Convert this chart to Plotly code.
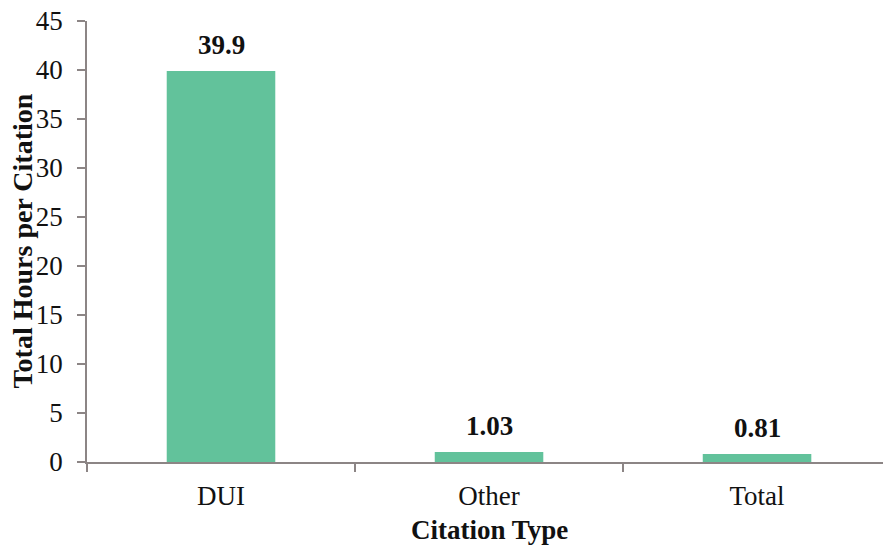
import plotly.graph_objects as go

# Hours of enforcement per citation, by citation type
categories = ["DUI", "Other", "Total"]
hours_per_citation = [39.9, 1.03, 0.81]
value_labels = ["39.9", "1.03", "0.81"]
y_ticks = [0, 5, 10, 15, 20, 25, 30, 35, 40, 45]

FONT = "Liberation Serif"
AXIS_GRAY = "#8c8585"
BAR_GREEN = "#62C29B"

fig = go.Figure()
fig.add_trace(go.Bar(
    x=categories,
    y=hours_per_citation,
    width=0.405,
    marker=dict(color=BAR_GREEN, line=dict(width=0)),
    hoverinfo="skip",
))

# Bold value labels above each bar
for cat, val, lab in zip(categories, hours_per_citation, value_labels):
    fig.add_annotation(
        x=cat, y=val, xref="x", yref="y",
        text=f"<b>{lab}</b>", showarrow=False,
        yanchor="bottom", yshift=9,
        font=dict(family=FONT, size=27, color="#111111"),
    )

# Axis titles
fig.add_annotation(
    x="Other", xref="x", y=0, yref="paper",
    text="<b>Citation Type</b>", showarrow=False,
    yanchor="middle", yshift=-68,
    font=dict(family=FONT, size=27, color="#111111"),
)
fig.add_annotation(
    x=-65 / 796, xref="paper", y=0.5, yref="paper",
    text="<b>Total Hours per Citation</b>", showarrow=False,
    textangle=-90, xanchor="center", yanchor="middle",
    font=dict(family=FONT, size=28, color="#111111"),
)

fig.update_layout(
    width=883, height=548,
    margin=dict(l=87, r=0, t=21, b=86),
    paper_bgcolor="white", plot_bgcolor="white",
    showlegend=False,
    font=dict(family=FONT, color="#111111"),
    xaxis=dict(
        type="category",
        range=[-0.5, 2.47],
        showgrid=False, zeroline=False,
        showline=True, linecolor=AXIS_GRAY, linewidth=1.5,
        ticks="outside", tickson="boundaries", ticklen=8,
        tickcolor=AXIS_GRAY, tickwidth=1.5,
        tickfont=dict(family=FONT, size=27, color="#111111"),
        ticklabelstandoff=9,
    ),
    yaxis=dict(
        range=[0, 45],
        tickvals=y_ticks,
        showgrid=False, zeroline=False,
        showline=True, linecolor=AXIS_GRAY, linewidth=1.5,
        ticks="outside", ticklen=8, tickcolor=AXIS_GRAY, tickwidth=1.5,
        tickfont=dict(family=FONT, size=27, color="#111111"),
        ticklabelstandoff=9,
    ),
)

fig.write_html("out.html")
